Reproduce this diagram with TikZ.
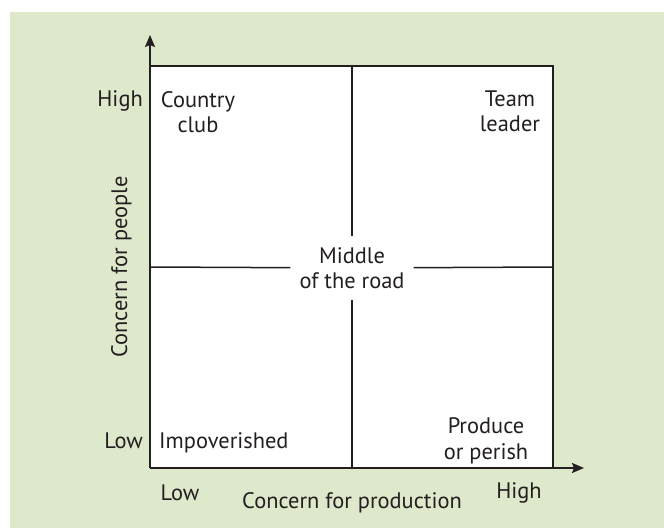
\documentclass[tikz,border=0pt]{standalone}
\usepackage{fontspec}
\setmainfont{PT Sans}
\usetikzlibrary{arrows.meta,positioning}
\definecolor{panelgreen}{RGB}{222,232,203}
\definecolor{ink}{RGB}{35,31,32}

\begin{document}
\begin{tikzpicture}[
  x=1bp, y=-1bp,
  font=\fontsize{22.5}{25.5}\selectfont,
  tagtext/.style={text=ink, inner sep=0pt, align=center},
  gridline/.style={line width=1.5bp, draw=ink},
  axis/.style={-{Stealth[length=12bp,width=10bp,inset=2bp]}, line width=1.5bp, draw=ink},
  gap/.style={tagtext, minimum width=123bp, minimum height=63bp}
]
  \useasboundingbox (0,0) rectangle (664,528);
  \fill[panelgreen] (10,12) rectangle (664,528);

  % grid corners
  \coordinate (origin) at (150,468);
  \coordinate (topleft) at (150,66);
  \coordinate (topright) at (553,66);
  \coordinate (botright) at (553,468);
  \coordinate (ytip) at (150,35);
  \coordinate (xtip) at (584,468);
  \coordinate (topmid) at (352,66);
  \coordinate (botmid) at (352,468);
  \coordinate (leftmid) at (150,267);
  \coordinate (rightmid) at (553,267);

  \fill[white] (origin) rectangle (topright);
  \draw[gridline] (topleft) -- (topright) -- (botright);
  \draw[axis] (origin) -- (ytip);
  \draw[axis] (origin) -- (xtip);

  \node[gap] (mid) at (352,268) {Middle\\of the road};
  \draw[gridline] (topmid) -- (mid);
  \draw[gridline] (mid) -- (botmid);
  \draw[gridline] (leftmid) -- (mid);
  \draw[gridline] (mid) -- (rightmid);

  % quadrant styles (base = last line)
  \node[tagtext, anchor=base] (club) at (198,133) {Country\\club};
  \node[tagtext, anchor=base] (team) at (510,132) {Team\\leader};
  \node[tagtext, anchor=base west] (poor) at (159,448) {Impoverished};
  \node[tagtext, anchor=base] (perish) at (486,459) {Produce\\or perish};

  % axis labels
  \node[tagtext, anchor=base east] (yhigh) at (143,107) {High};
  \node[tagtext, anchor=base east] (ylow) at (143,448) {Low};
  \node[tagtext, anchor=base] (xlow) at (180,500) {Low};
  \node[tagtext, anchor=base] (xhigh) at (519,498) {High};
  \node[tagtext, anchor=base] (xtitle) at (352,508) {Concern for production};
  \node[tagtext, anchor=base, rotate=90] (ytitle) at (127,267) {Concern for people};
\end{tikzpicture}
\end{document}
